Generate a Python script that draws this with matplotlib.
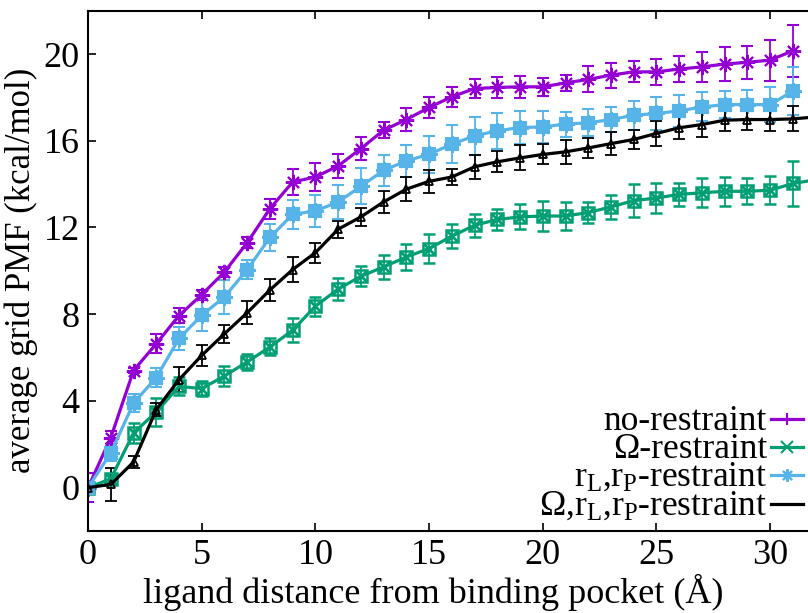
import matplotlib
matplotlib.use("Agg")
import matplotlib.pyplot as plt

plt.rcParams["font.family"] = ["Liberation Serif", "DejaVu Serif"]
plt.rcParams["mathtext.fontset"] = "custom"
plt.rcParams["mathtext.rm"] = "Liberation Serif"
plt.rcParams["mathtext.it"] = "Liberation Serif:italic"

# distancia del ligando (Angstrom)
dist = list(range(0, 32))
dist_ext = list(range(0, 33))

# sin restriccion
no_rest = [0, 2.31, 5.4, 6.64, 7.94, 8.9, 9.95, 11.3, 12.87, 14.1, 14.33, 14.84,
           15.64, 16.49, 16.98, 17.54, 18.03, 18.41, 18.46, 18.49, 18.49, 18.67,
           18.83, 19.03, 19.18, 19.18, 19.31, 19.41, 19.54, 19.62, 19.72, 20.15]
no_rest_err = [0.68, 0.28, 0.1, 0.44, 0.35, 0.23, 0.25, 0.25, 0.46, 0.6, 0.65, 0.54,
               0.52, 0.36, 0.52, 0.49, 0.46, 0.42, 0.48, 0.5, 0.42, 0.36,
               0.6, 0.58, 0.48, 0.6, 0.59, 0.69, 0.8, 0.77, 0.94, 1.19]

# restriccion Omega
omega = [0, 0.41, 2.52, 3.49, 4.67, 4.57, 5.15, 5.8, 6.49, 7.26, 8.37, 9.16,
         9.75, 10.18, 10.64, 11.03, 11.6, 12.1, 12.37, 12.49, 12.53, 12.53,
         12.69, 12.95, 13.24, 13.36, 13.53, 13.6, 13.67, 13.67, 13.72, 14.03, 14.2]
omega_err = [0.1, 0.23, 0.46, 0.65, 0.42, 0.33, 0.48, 0.38, 0.39, 0.55, 0.44, 0.5,
             0.46, 0.55, 0.62, 0.65, 0.55, 0.54, 0.5, 0.58, 0.68, 0.64,
             0.48, 0.57, 0.75, 0.68, 0.53, 0.67, 0.66, 0.6, 0.64, 1.02, 0.6]

# restriccion rL, rP
rlrp = [0, 1.6, 3.9, 5.08, 6.88, 7.95, 8.8, 10.06, 11.54, 12.61, 12.76, 13.18,
        13.9, 14.64, 15.07, 15.38, 15.84, 16.23, 16.46, 16.61, 16.64, 16.77,
        16.83, 16.98, 17.18, 17.26, 17.38, 17.56, 17.67, 17.67, 17.67, 18.29]
rlrp_err = [0.2, 0.37, 0.41, 0.46, 0.52, 0.73, 0.77, 0.42, 0.62, 0.68, 0.76, 0.77,
            0.83, 0.72, 0.75, 0.85, 0.87, 0.88, 0.83, 0.76, 0.72, 0.58,
            0.63, 0.59, 0.67, 0.78, 0.73, 0.67, 0.63, 0.65, 0.82, 1.1]

# restriccion Omega, rL, rP
all_rest = [0, 0.15, 1.18, 3.6, 4.98, 6.1, 7.1, 8.07, 9.12, 10.06, 10.84, 11.92,
            12.49, 13.18, 13.77, 14.13, 14.33, 14.8, 15.03, 15.21, 15.37, 15.49,
            15.67, 15.87, 16.06, 16.34, 16.6, 16.75, 16.95, 16.98, 16.98, 17.01, 17.1]
all_rest_err = [0.1, 0.77, 0.27, 0.3, 0.58, 0.48, 0.42, 0.52, 0.5, 0.58, 0.46, 0.4,
                0.42, 0.52, 0.54, 0.52, 0.38, 0.54, 0.49, 0.58, 0.46, 0.54,
                0.48, 0.54, 0.46, 0.56, 0.5, 0.58, 0.48, 0.49, 0.52, 0.58, 0.5]

labels = ["no-restraint", "Ω-restraint",
          r"r$_\mathrm{L}$,r$_\mathrm{P}$-restraint",
          r"Ω,r$_\mathrm{L}$,r$_\mathrm{P}$-restraint"]

purple = "#9400d3"
green = "#009e73"
blue = "#56b4e9"
black = "#000000"

W, H = 808, 613
fig = plt.figure(figsize=(W / 100, H / 100), dpi=100)
ax = fig.add_axes([0.109, 0.1338, 0.9004, 0.8487])

ekw = dict(lw=2.3, elinewidth=1.3, capsize=4.5, capthick=1.3)

ax.errorbar(dist, no_rest, yerr=no_rest_err, color=purple,
            marker=(8, 2, 0), ms=11, mew=1.5, **ekw)
ax.errorbar(dist_ext, omega, yerr=omega_err, color=green,
            marker="s", ms=8, mfc="none", mew=1.8, **ekw)
ax.plot(dist_ext, omega, ls="none", marker="x", ms=7, mew=2, color=green)
ax.errorbar(dist, rlrp, yerr=rlrp_err, color=blue,
            marker="s", ms=8, mew=1.5, **ekw)
ax.plot(dist, rlrp, ls="none", marker=(8, 2, 0), ms=12, mew=1.8, color=blue)
ax.errorbar(dist_ext, all_rest, yerr=all_rest_err, color=black,
            marker="^", ms=6, mfc="none", mew=1.3, **ekw)

ax.set_xlim(0, 32)
ax.set_ylim(-2, 22)
ax.set_xticks([0, 5, 10, 15, 20, 25, 30])
ax.set_yticks([0, 4, 8, 12, 16, 20])
ax.tick_params(direction="in", length=6, width=1.2, top=True, right=True,
               labelsize=26, pad=6)
for s in ax.spines.values():
    s.set_linewidth(1.5)

ax.set_xlabel("ligand distance from binding pocket (Å)", fontsize=26, labelpad=2)
ax.xaxis.set_label_coords(0.474, -0.083, transform=ax.transAxes)
ax.xaxis.label.set_va("top")
ax.set_ylabel("average grid PMF (kcal/mol)", fontsize=25, labelpad=4)

# leyenda manual al estilo gnuplot (texto alineado a la derecha)
markers = ["+", "x", (8, 2, 0), None]
colors = [purple, green, blue, black]
row_y = [419, 447, 475, 504]
for lab, mk, col, py in zip(labels, markers, colors, row_y):
    yf = 1 - py / H
    fig.text(767 / W, 1 - (py + 11) / H, lab, ha="right", va="baseline",
             fontsize=25.5)
    fig.add_artist(plt.Line2D([771 / W, 803 / W], [yf, yf], color=col, lw=2.3,
                              transform=fig.transFigure))
    if mk is not None:
        fig.add_artist(plt.Line2D([787 / W], [yf], color=col, marker=mk, ms=9,
                                  mew=1.5, transform=fig.transFigure))

fig.savefig("out.png", dpi=100)
